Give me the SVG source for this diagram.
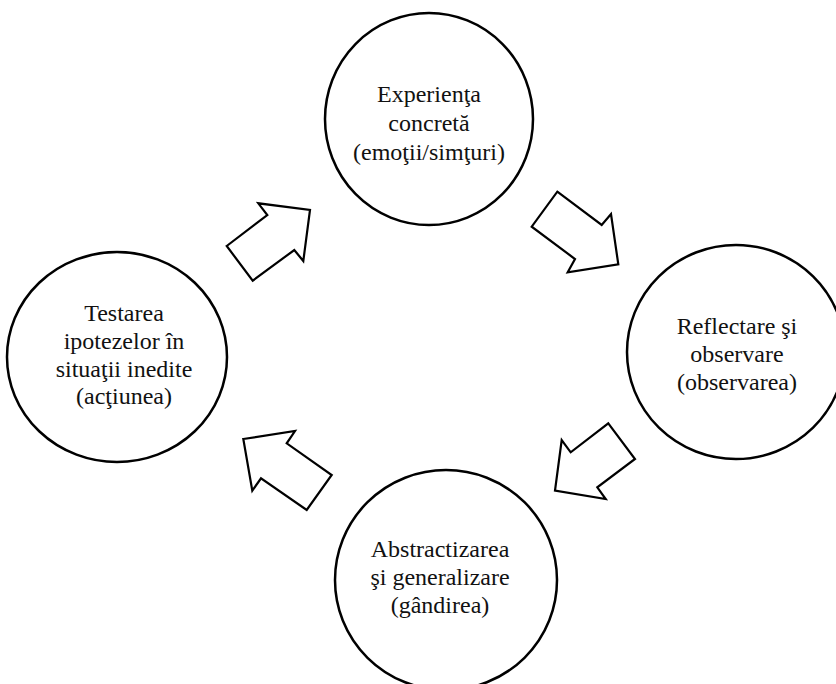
<svg xmlns="http://www.w3.org/2000/svg" width="836" height="684" viewBox="0 0 836 684">
<style>
.c{fill:#fff;stroke:#000;stroke-width:2.5}
.a{fill:#fff;stroke:#000;stroke-width:2.2;stroke-linejoin:miter}
text{font-family:"Liberation Serif","Times New Roman",serif;font-size:24px;fill:#111;text-anchor:middle}
</style>
<rect width="836" height="684" fill="#fff"/>
<g id="connectors">
<polygon class="a" points="226.7,246 267.3,215 258.3,203.3 310,210 303.3,261 294.3,250 252.7,280.7"/>
<polygon class="a" points="557.3,191.7 601.7,225 611,214 618.3,264.3 567.7,272.3 575,259 531.7,226.7"/>
<polygon class="a" points="608.3,423.3 635,459 597.3,487.3 605.7,499 555,490.7 561.7,440 570.7,452.3"/>
<polygon class="a" points="243.3,439 295,431 286.7,443.3 331.7,475 306.7,510 261,478.3 252.3,490.7"/>
</g>
<g id="node-experienta">
<ellipse class="c" cx="429" cy="119" rx="104" ry="106"/>
<text x="429" y="102">Experienţa</text>
<text x="429" y="131">concretă</text>
<text x="429" y="160">(emoţii/simţuri)</text>
</g>
<g id="node-reflectare">
<ellipse class="c" cx="736" cy="352" rx="109" ry="107"/>
<text x="737" y="334">Reflectare şi</text>
<text x="737" y="362">observare</text>
<text x="737" y="390">(observarea)</text>
</g>
<g id="node-abstractizare">
<ellipse class="c" cx="446" cy="580" rx="111" ry="110"/>
<text x="440" y="557">Abstractizarea</text>
<text x="440" y="585">şi generalizare</text>
<text x="440" y="613">(gândirea)</text>
</g>
<g id="node-testarea">
<ellipse class="c" cx="117" cy="357" rx="110" ry="105"/>
<text x="124" y="321">Testarea</text>
<text x="124" y="349">ipotezelor în</text>
<text x="124" y="377">situaţii inedite</text>
<text x="124" y="404">(acţiunea)</text>
</g>
</svg>
